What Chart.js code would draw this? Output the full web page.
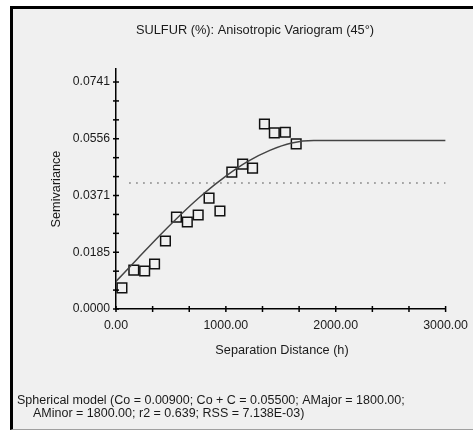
<!DOCTYPE html>
<html>
<head>
<meta charset="utf-8">
<script src="https://cdn.jsdelivr.net/npm/chart.js@4/dist/chart.umd.min.js"></script>
<style>
    html, body { margin: 0; background: #fff; overflow: hidden; }
    #frame {
        position: absolute; left: 10px; top: 6px; width: 460px; height: 420px;
        background: #f0f0f0; border-left: 3px solid #000; border-top: 3px solid #000;
        border-bottom: 1px solid #a0a0a0;
    }
    #myChart { position: absolute; left: 0; top: 0; }
</style>
</head>
<body>
<div id="frame"></div>
<canvas id="myChart" width="473" height="432"></canvas>
<script>
// experimental variogram points (lag distance / semivariance)
const lagDistance = [54, 162, 261, 351, 450, 550, 649, 748, 847, 946, 1054, 1153, 1243, 1351, 1441, 1541, 1640];
const semivariance = [0.0069, 0.0127, 0.0124, 0.0147, 0.0222, 0.0300, 0.0284, 0.0307, 0.0362, 0.0320, 0.0447, 0.0473, 0.0460, 0.0604, 0.0575, 0.0577, 0.0539];

// fitted spherical model curve
const modelDistance = [0, 200, 400, 600, 800, 1000, 1200, 1400, 1600, 1800, 3000];
const modelValue = [0.0090, 0.0166, 0.0241, 0.0312, 0.0377, 0.0434, 0.0482, 0.0518, 0.0542, 0.0550, 0.0550];

// dotted horizontal line (sample variance)
const sillDistance = [120, 3000];
const sillValue = [0.0411, 0.0411];

const xTickLabels = ['0.00', '1000.00', '2000.00', '3000.00'];
const yTickLabels = ['0.0000', '0.0185', '0.0371', '0.0556', '0.0741'];
const xMinorStep = 1000 / 3;
const yMinorStep = 0.0741 / 12;

const fontFamily = "'Liberation Sans', Arial, sans-serif";
const textColor = '#1a1a1a';

const xTicks = [];
for (let i = 0; i <= 9; i++) xTicks.push({ value: i * xMinorStep });
const yTicks = [];
for (let i = 0; i <= 12; i++) yTicks.push({ value: i * yMinorStep });

function toPoints(xs, ys) {
    return xs.map((x, i) => ({ x: x, y: ys[i] }));
}

const decorations = {
    id: 'decorations',
    afterDraw(chart) {
        const ctx = chart.ctx;
        const xScale = chart.scales.x;
        const yScale = chart.scales.y;
        ctx.save();
        ctx.strokeStyle = '#000';
        ctx.lineWidth = 1.5;
        xScale.ticks.forEach((t) => {
            const px = xScale.getPixelForValue(t.value);
            ctx.beginPath();
            ctx.moveTo(px, yScale.bottom - 3);
            ctx.lineTo(px, yScale.bottom + 3);
            ctx.stroke();
        });
        yScale.ticks.forEach((t) => {
            const py = yScale.getPixelForValue(t.value);
            ctx.beginPath();
            ctx.moveTo(xScale.left - 3, py);
            ctx.lineTo(xScale.left + 3, py);
            ctx.stroke();
        });

        ctx.fillStyle = textColor;
        ctx.textAlign = 'center';
        ctx.textBaseline = 'middle';
        ctx.font = '12.8px ' + fontFamily;
        ctx.fillText('SULFUR (%): Anisotropic Variogram (45°)', 255, 30);
        ctx.font = '12.7px ' + fontFamily;
        ctx.fillText('Separation Distance (h)', 282, 350);

        ctx.save();
        ctx.translate(56, 189);
        ctx.rotate(-Math.PI / 2);
        ctx.fillText('Semivariance', 0, 0);
        ctx.restore();

        ctx.textAlign = 'left';
        ctx.font = '12.5px ' + fontFamily;
        ctx.fillText('Spherical model (Co = 0.00900; Co + C = 0.05500; AMajor = 1800.00;', 17, 401);
        ctx.fillText('AMinor = 1800.00; r2 = 0.639; RSS = 7.138E-03)', 33, 414);
        ctx.restore();
    }
};

const config = {
    type: 'scatter',
    data: {
        datasets: [{
            label: 'model',
            data: toPoints(modelDistance, modelValue),
            showLine: true,
            borderColor: '#444',
            borderWidth: 1.5,
            pointRadius: 0,
            cubicInterpolationMode: 'monotone',
        }, {
            label: 'sill',
            data: toPoints(sillDistance, sillValue),
            showLine: true,
            borderColor: '#777',
            borderWidth: 1.5,
            borderDash: [1.5, 5.5],
            pointRadius: 0,
        }, {
            label: 'semivariance',
            data: toPoints(lagDistance, semivariance),
            pointStyle: 'rect',
            pointRadius: 6.8,
            borderColor: '#111',
            borderWidth: 1.5,
            backgroundColor: 'rgba(0,0,0,0)',
        }]
    },
    options: {
        responsive: false,
        animation: false,
        devicePixelRatio: 1,
        layout: { padding: { left: 0, top: 69, right: 25, bottom: 0 } },
        plugins: {
            legend: { display: false },
            tooltip: { enabled: false },
        },
        scales: {
            x: {
                type: 'linear',
                min: 0,
                max: 3000,
                afterFit: (scale) => { scale.height = 123; },
                afterBuildTicks: (scale) => { scale.ticks = xTicks.map((t) => ({ value: t.value })); },
                grid: { display: false, drawTicks: true, tickLength: 4 },
                border: { display: true, color: '#000', width: 1.5 },
                ticks: {
                    autoSkip: false,
                    maxRotation: 0,
                    padding: 5,
                    color: textColor,
                    font: { family: fontFamily, size: 12.4 },
                    callback: (value, index) => (index % 3 === 0 ? xTickLabels[index / 3] : ''),
                },
            },
            y: {
                type: 'linear',
                min: 0,
                max: 0.07835,
                afterFit: (scale) => { scale.width = 116; },
                afterBuildTicks: (scale) => { scale.ticks = yTicks.map((t) => ({ value: t.value })); },
                grid: { display: false, drawTicks: true, tickLength: 4 },
                border: { display: true, color: '#000', width: 1.5 },
                ticks: {
                    autoSkip: false,
                    padding: 2,
                    color: textColor,
                    font: { family: fontFamily, size: 12.2 },
                    callback: (value, index) => (index % 3 === 0 ? yTickLabels[index / 3] : ''),
                },
            },
        },
    },
    plugins: [decorations],
};

window.onload = function () {
    new Chart(document.getElementById('myChart'), config);
};
</script>
</body>
</html>
